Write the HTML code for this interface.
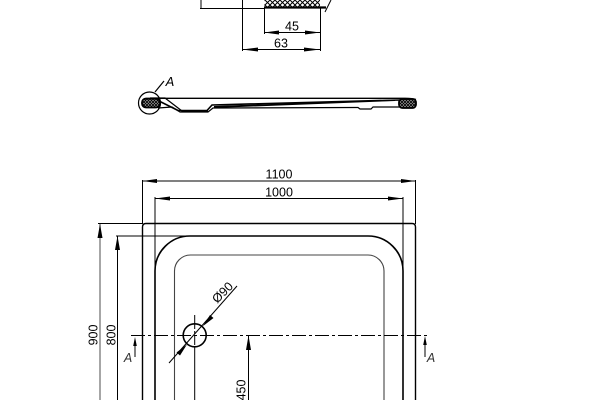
<!DOCTYPE html>
<html><head><meta charset="utf-8"><style>
html,body{margin:0;padding:0;background:#fff}
svg{display:block}
text{font-family:"Liberation Sans",sans-serif;font-size:12.5px;fill:#000}
</style></head><body>
<svg width="600" height="400" viewBox="0 0 600 400" xmlns="http://www.w3.org/2000/svg">
<defs>
<pattern id="h" width="5" height="5" patternUnits="userSpaceOnUse"><rect width="5" height="5" fill="#fff"/><path d="M0 0L5 5M5 0L0 5" stroke="#000" stroke-width="1"/></pattern>
<pattern id="h2" width="3" height="3" patternUnits="userSpaceOnUse"><rect width="3" height="3" fill="#bbb"/><path d="M0 0L3 3M3 0L0 3" stroke="#000" stroke-width=".9"/></pattern>
</defs>
<g fill="none" stroke="#000" stroke-width="1">
<!-- top detail -->
<rect x="264.500" y="-2" width="55.500" height="9" fill="url(#h)" stroke="none"/>
<path d="M264 7.500H326" stroke-width="2.200"/>
<path d="M200 8.500H264M201 0V8M264.500 8V34M320.500 8V51M242.500 0V51M331 0L325 12"/>
<path d="M264 32.500H320M242 49.500H320"/>
<!-- section -->
<circle cx="149.500" cy="103" r="11" stroke-width="1.200"/>
<path d="M155 92L164 81" stroke-width="1.200"/>
<path d="M150 98.300H405Q413 98.300 416 99.500" stroke-width="1.400"/>
<path d="M158 100.500L178 110.500H207L212 105L400 100" stroke-width="1.600"/>
<path d="M158 108L172 107L180 112H208L213 108L355 107.500H358L360 109H371L373 107H400" stroke-width="1.200"/>
<path d="M214 106L395 99.500V101L214 108Z" fill="#000" stroke="none"/>
<path d="M150 98H165L182 111H208" stroke-width="1.200"/>
<rect x="142" y="98.500" width="18" height="9" rx="4" fill="url(#h2)" stroke="#000" stroke-width="1.800"/>
<rect x="399" y="99" width="17" height="9" rx="3.500" fill="url(#h2)" stroke="#000" stroke-width="1.800"/>
<!-- plan -->
<path d="M142.500 400V227Q142.500 223.500 146 223.500H412Q415.500 223.500 415.500 227V400" stroke-width="1.400"/>
<path d="M155 400V271A35 35 0 0 1 190 236H368A35 35 0 0 1 403 271V400" stroke-width="1.600"/>
<path d="M174.500 400V271A16 16 0 0 1 190.500 255H368A16 16 0 0 1 384 271V400" stroke="#444" stroke-width="1.100"/>
<path d="M142.500 180V224M415.500 180V224M155 197V271M403 197V271"/>
<path d="M142 181H415M155 198.500H403"/>
<path d="M98 223.500H142M116 236H190"/>
<path d="M100 224V400" stroke="#777" stroke-width="1.300"/>
<path d="M117.500 236V400"/>
<circle cx="194.700" cy="335.300" r="11.500" stroke-width="1.600"/>
<path d="M131 335.500H428" stroke-dasharray="14 3 3 3"/>
<path d="M194.700 315V345" stroke-dasharray="14 2 3 2"/>
<path d="M194.700 346V400"/>
<path d="M169 363L237 286"/>
<path d="M248.500 336V400"/>
<path d="M135 340V357M425 340V357"/>
</g>
<g fill="#000" stroke="none">
<path d="M264 32.500L279 30.500V34.500ZM320 32.500L305 30.500V34.500Z"/>
<path d="M242 49.500L258 47.500V51.500ZM320 49.500L304 47.500V51.500Z"/>
<path d="M142.500 181L157 179V183ZM415.500 181L401 179V183Z"/>
<path d="M155 198.500L170 196.500V200.500ZM403 198.500L388 196.500V200.500Z"/>
<path d="M100 224L97.500 238H102.500ZM117.500 236L115 250H120Z"/>
<path d="M248.500 335.500L246 350H251Z"/>
<path d="M135 337L133.200 346H136.800ZM425 336L423.200 345H426.800Z"/>
<path d="M202.800 326.200L213.500 318L210 315ZM187 344.400L176.500 352.500L180 355.500Z"/>
</g>
<text x="292" y="30.500" text-anchor="middle">45</text>
<text x="281" y="47.500" text-anchor="middle">63</text>
<text x="279" y="178.500" text-anchor="middle">1100</text>
<text x="279" y="196.500" text-anchor="middle">1000</text>
<text x="170" y="86" font-style="italic" text-anchor="middle" style="font-size:13px">A</text>
<text x="128" y="362" font-style="italic" text-anchor="middle" style="fill:#333">A</text>
<text x="431" y="362" font-style="italic" text-anchor="middle" style="fill:#333">A</text>
<text transform="translate(97.500,335) rotate(-90)" text-anchor="middle">900</text>
<text transform="translate(115.500,335) rotate(-90)" text-anchor="middle">800</text>
<text transform="translate(245.500,390) rotate(-90)" text-anchor="middle">450</text>
<text transform="translate(225.500,295.500) rotate(-45)" text-anchor="middle">Ø90</text>
</svg>
</body></html>
